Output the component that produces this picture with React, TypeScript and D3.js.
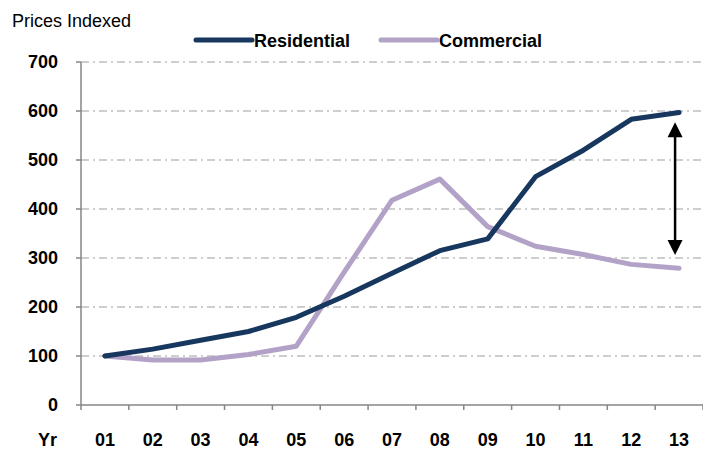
import React from "react";
import * as d3 from "d3";

const categories = ["01", "02", "03", "04", "05", "06", "07", "08", "09", "10", "11", "12", "13"];
const residential = [100, 114, 132, 150, 179, 222, 269, 315, 339, 466, 520, 583, 597];
const commercial = [100, 92, 92, 103, 120, 271, 418, 461, 364, 324, 307, 287, 279];
const yTicks = [0, 100, 200, 300, 400, 500, 600, 700];
const seriesNames = ["Residential", "Commercial"];
const seriesColors = ["#17375E", "#B3A2C7"];

const W = 703;
const H = 450;
const FONT = "'Liberation Sans', Arial, sans-serif";

export default function App() {
  const x = d3.scaleBand<string>().domain(categories).range([81, 703]).padding(0);
  const y = d3.scaleLinear().domain([0, 700]).range([405, 62]);
  const cx = (c: string) => (x(c) as number) + x.bandwidth() / 2;

  const line = d3
    .line<number>()
    .x((_, i) => cx(categories[i]))
    .y((d) => y(d));

  const series = [residential, commercial];
  const boundaries = categories.map((c) => x(c) as number).concat([x.range()[1]]);

  const arrowX = cx("13") - 4;
  const arrowTop = y(577);
  const arrowBot = y(306);

  return (
    <svg width={W} height={H} style={{ position: "absolute", left: 0, top: 0 }} fontFamily={FONT}>
      <rect width={W} height={H} fill="#fff" />
      {/* gridlines */}
      {yTicks
        .filter((t) => t > 0)
        .map((t) => (
          <line
            key={"g" + t}
            x1={81}
            x2={703}
            y1={y(t)}
            y2={y(t)}
            stroke="#BFBFBF"
            strokeWidth={1.5}
            strokeDasharray="8,4,2,4"
          />
        ))}
      {/* y axis */}
      <line x1={81} x2={81} y1={y(700)} y2={y(0)} stroke="#868686" strokeWidth={1.5} />
      {yTicks.map((t) => (
        <g key={"y" + t}>
          <line x1={76} x2={81} y1={y(t)} y2={y(t)} stroke="#868686" strokeWidth={1.5} />
          <text x={58} y={y(t)} dy="0.35em" textAnchor="end" fontSize={18} fontWeight="bold" fill="#000">
            {t}
          </text>
        </g>
      ))}
      {/* x axis */}
      <line x1={81} x2={703} y1={y(0)} y2={y(0)} stroke="#868686" strokeWidth={1.5} />
      {boundaries.map((b, i) => (
        <line key={"xt" + i} x1={b} x2={b} y1={y(0)} y2={y(0) + 5} stroke="#868686" strokeWidth={1.5} />
      ))}
      {categories.map((c) => (
        <text key={"xl" + c} x={cx(c)} y={446} textAnchor="middle" fontSize={18} fontWeight="bold" fill="#000">
          {c}
        </text>
      ))}
      <text x={57} y={446} textAnchor="end" fontSize={18} fontWeight="bold" fill="#000">
        Yr
      </text>
      {/* title */}
      <text x={12} y={27} fontSize={18} fill="#000">
        Prices Indexed
      </text>
      {/* lines */}
      {[1, 0].map((si) => (
        <path
          key={"s" + si}
          d={line(series[si]) as string}
          fill="none"
          stroke={seriesColors[si]}
          strokeWidth={5}
          strokeLinejoin="round"
          strokeLinecap="round"
        />
      ))}
      {/* legend */}
      {seriesNames.map((n, i) => {
        const lx = i === 0 ? 196 : 381;
        return (
          <g key={"lg" + n}>
            <line x1={lx} x2={lx + 56} y1={40} y2={40} stroke={seriesColors[i]} strokeWidth={5} strokeLinecap="round" />
            <text x={lx + 58} y={46.5} fontSize={18} fontWeight="bold" fill="#000">
              {n}
            </text>
          </g>
        );
      })}
      {/* double arrow */}
      <line x1={arrowX} x2={arrowX} y1={arrowTop + 12} y2={arrowBot - 12} stroke="#000" strokeWidth={2.5} />
      <path d={`M${arrowX},${arrowTop} L${arrowX - 7.5},${arrowTop + 15} L${arrowX + 7.5},${arrowTop + 15} Z`} fill="#000" />
      <path d={`M${arrowX},${arrowBot} L${arrowX - 7.5},${arrowBot - 15} L${arrowX + 7.5},${arrowBot - 15} Z`} fill="#000" />
    </svg>
  );
}
